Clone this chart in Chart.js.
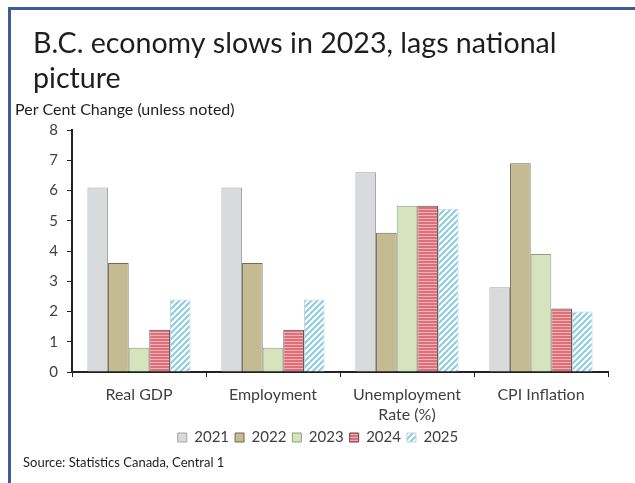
<!DOCTYPE html>
<html>
<head>
<meta charset="utf-8">
<script src="https://cdn.jsdelivr.net/npm/chart.js@4.4.1/dist/chart.umd.min.js"></script>
<style>
  html, body { margin: 0; padding: 0; background: #fff; }
  canvas { display: block; }
</style>
</head>
<body>
<canvas id="c" width="635" height="483"></canvas>
<script>
// Categories and yearly values (per cent change, unemployment as a rate)
const categories = ['Real GDP', 'Employment', ['Unemployment', 'Rate (%)'], 'CPI Inflation'];
const years = ['2021', '2022', '2023', '2024', '2025'];
const v2021 = [6.1, 6.1, 6.6, 2.8];
const v2022 = [3.6, 3.6, 4.6, 6.9];
const v2023 = [0.8, 0.8, 5.5, 3.9];
const v2024 = [1.4, 1.4, 5.5, 2.1];
const v2025 = [2.4, 2.4, 5.4, 2.0];
const yMin = 0, yMax = 8, yStep = 1;

const titleLines = ['B.C. economy slows in 2023, lags national', 'picture'];
const subtitleText = 'Per Cent Change (unless noted)';
const sourceText = 'Source: Statistics Canada, Central 1';

const FONT = 'Lato, "Open Sans", sans-serif';

// Horizontal red/pink stripes
function stripePattern() {
  const c = document.createElement('canvas');
  c.width = 4; c.height = 3;
  const g = c.getContext('2d');
  g.fillStyle = '#f1b0b4';
  g.fillRect(0, 0, 4, 3);
  g.fillStyle = '#dd6f79';
  g.fillRect(0, 0, 4, 2);
  return g.createPattern(c, 'repeat');
}
// Light blue diagonal hatch on white
function hatchPattern() {
  const s = 6;
  const c = document.createElement('canvas');
  c.width = s; c.height = s;
  const g = c.getContext('2d');
  g.fillStyle = '#ffffff';
  g.fillRect(0, 0, s, s);
  g.strokeStyle = '#8ccbe0';
  g.lineWidth = 2;
  g.beginPath();
  g.moveTo(0, s); g.lineTo(s, 0);
  g.moveTo(-s / 2, s / 2); g.lineTo(s / 2, -s / 2);
  g.moveTo(s / 2, s + s / 2); g.lineTo(s + s / 2, s / 2);
  g.stroke();
  return g.createPattern(c, 'repeat');
}

const seriesValues = [v2021, v2022, v2023, v2024, v2025];
const fills = ['#d9dadc', '#c4bb92', '#d6e4bd', stripePattern(), hatchPattern()];
const borders = ['#a3a3a3', '#6f6a55', '#8f9a80', '#5a4a4c', '#c4d4dc'];

const frameAndText = {
  id: 'frameAndText',
  beforeDraw(chart) {
    const ctx = chart.ctx;
    ctx.save();
    ctx.fillStyle = '#fff';
    ctx.fillRect(0, 0, chart.width, chart.height);
    // frame lines along top and left
    ctx.fillStyle = '#3c5d98';
    ctx.fillRect(8, 7, chart.width - 8, 3);
    ctx.fillRect(8, 7, 3, chart.height - 7);
    ctx.fillStyle = '#1e1e1e';
    ctx.textBaseline = 'alphabetic';
    ctx.textAlign = 'left';
    ctx.font = '28.6px ' + FONT;
    ctx.fillText(titleLines[0], 33, 53);
    ctx.fillText(titleLines[1], 33, 88);
    ctx.font = '16px ' + FONT;
    ctx.fillText(subtitleText, 15, 115);
    ctx.font = '13px ' + FONT;
    ctx.fillText(sourceText, 23, 467);
    ctx.restore();
  }
};

new Chart(document.getElementById('c'), {
  type: 'bar',
  data: {
    labels: categories,
    datasets: years.map((y, i) => ({
      label: y,
      data: seriesValues[i],
      backgroundColor: fills[i],
      borderColor: borders[i],
      borderWidth: 1,
      categoryPercentage: 0.77,
      barPercentage: 1.0
    }))
  },
  options: {
    responsive: false,
    animation: false,
    devicePixelRatio: 1,
    layout: { padding: { top: 130, left: 28, right: 27, bottom: 28 } },
    plugins: {
      title: { display: false },
      tooltip: { enabled: false },
      legend: {
        position: 'bottom',
        labels: {
          boxWidth: 9,
          boxHeight: 9,
          padding: 6,
          color: '#404040',
          font: { family: FONT, size: 15 }
        }
      }
    },
    scales: {
      x: {
        afterFit(s) { s.height = 52; },
        grid: { display: true, drawOnChartArea: false, drawTicks: true, tickLength: 5, color: '#222', offset: true },
        border: { display: true, color: '#222', width: 2 },
        ticks: { color: '#404040', font: { family: FONT, size: 16, lineHeight: 1.25 }, padding: 8, maxRotation: 0 }
      },
      y: {
        min: yMin,
        max: yMax,
        afterFit(s) { s.width = 44; },
        grid: { display: true, drawOnChartArea: false, drawTicks: true, tickLength: 5, color: '#222' },
        border: { display: true, color: '#222', width: 2 },
        ticks: { stepSize: yStep, color: '#404040', font: { family: FONT, size: 15 }, padding: 9 }
      }
    }
  },
  plugins: [frameAndText]
});
</script>
</body>
</html>
